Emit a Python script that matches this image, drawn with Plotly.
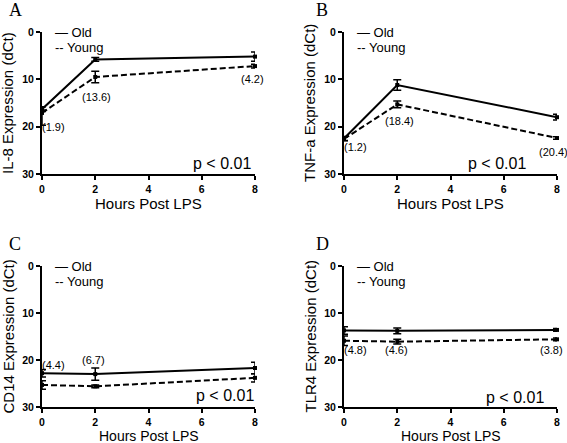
import plotly.graph_objects as go

W, H = 567, 443

hours = [0, 2, 8]

il8_old = [16.3, 5.8, 5.2]
il8_old_err = [0.5, 0.4, 1.0]
il8_young = [17.1, 9.5, 7.2]
il8_young_err_plus = [2.6, 1.2, 0.4]
il8_young_err_minus = [0.6, 1.2, 0.4]
il8_labels = ["(1.9)", "(13.6)", "(4.2)"]

tnf_old = [22.5, 11.2, 18.0]
tnf_old_err = [0.4, 1.1, 0.6]
tnf_young = [22.6, 15.3, 22.4]
tnf_young_err = [0.4, 0.7, 0.25]
tnf_labels = ["(1.2)", "(18.4)", "(20.4)"]

cd14_old = [22.8, 23.0, 21.7]
cd14_old_err = [0.8, 1.3, 1.2]
cd14_young = [25.3, 25.6, 23.8]
cd14_young_err = [0.9, 0.3, 0.9]
cd14_labels = ["(4.4)", "(6.7)", "(4.6)"]

tlr4_old = [13.7, 13.8, 13.6]
tlr4_old_err = [0.8, 0.6, 0.3]
tlr4_young = [15.9, 16.1, 15.6]
tlr4_young_err = [1.0, 0.5, 0.3]
tlr4_labels = ["(4.8)", "(4.6)", "(3.8)"]

panel_letters = ["A", "B", "C", "D"]
y_titles = ["IL-8 Expression (dCt)", "TNF-a Expression (dCt)",
            "CD14 Expression (dCt)", "TLR4 Expression (dCt)"]
x_title = "Hours Post LPS"
p_text = "p < 0.01"
y_ticks = [0, 10, 20, 30]
x_ticks = [0, 2, 4, 6, 8]

FONT = "Liberation Sans"

# pixel geometry of panels (left, right, top, bottom)
panels = [
    (42, 255, 32, 174),
    (344, 557, 32, 174),
    (42, 255, 266, 407),
    (344, 557, 266, 407),
]
x_title_y = [203, 203, 435.5, 435.5]
x_title_size = [15, 15, 14, 14]
letter_y = [10, 10, 244, 244]

def px(x):
    return x / W

def py(y):
    return 1 - y / H

fig = go.Figure()

series = [
    (il8_old, il8_old_err, il8_old_err, il8_young, il8_young_err_plus, il8_young_err_minus),
    (tnf_old, tnf_old_err, tnf_old_err, tnf_young, tnf_young_err, tnf_young_err),
    (cd14_old, cd14_old_err, cd14_old_err, cd14_young, cd14_young_err, cd14_young_err),
    (tlr4_old, tlr4_old_err, tlr4_old_err, tlr4_young, tlr4_young_err, tlr4_young_err),
]
labels = [il8_labels, tnf_labels, cd14_labels, tlr4_labels]
# label positions in data units (x, y)
label_pos = [
    [(0.42, 20.0), (2.03, 13.8), (7.9, 9.9)],
    [(0.42, 24.3), (2.07, 18.8), (7.86, 25.3)],
    [(0.45, 21.0), (1.95, 20.1), (8.04, 19.1)],
    [(0.45, 17.9), (1.99, 17.9), (7.8, 17.9)],
]
p_pos = [(6.76, 27.7), (5.75, 27.7), (6.87, 27.5), (6.42, 27.9)]

for i, (l, r, t, b) in enumerate(panels):
    n = i + 1
    xa = "x" if n == 1 else f"x{n}"
    ya = "y" if n == 1 else f"y{n}"
    old, oep, oem, young, yep, yem = series[i]
    fig.add_trace(go.Scatter(
        x=hours, y=old, xaxis=xa, yaxis=ya, mode="lines+markers",
        line=dict(color="black", width=2),
        marker=dict(symbol="square", size=4, color="black"),
        error_y=dict(type="data", array=oep, arrayminus=oem, symmetric=False,
                     color="black", thickness=1.5, width=4),
        cliponaxis=False, showlegend=False, name="Old"))
    fig.add_trace(go.Scatter(
        x=hours, y=young, xaxis=xa, yaxis=ya, mode="lines+markers",
        line=dict(color="black", width=2, dash="6px,3px"),
        marker=dict(symbol="square", size=4, color="black"),
        error_y=dict(type="data", array=yep, arrayminus=yem, symmetric=False,
                     color="black", thickness=1.5, width=4),
        cliponaxis=False, showlegend=False, name="Young"))

    axis_common = dict(showgrid=False, zeroline=False, showline=True,
                       linecolor="black", linewidth=2, ticks="outside",
                       ticklen=4, tickwidth=2, tickcolor="black", automargin=False,
                       tickfont=dict(family=FONT, size=10.5, color="black", weight="bold"))
    fig.update_layout(**{
        ("xaxis" if n == 1 else f"xaxis{n}"): dict(
            domain=[px(l), px(r)], anchor=ya, range=[0, 8], tickvals=x_ticks,
            ticktext=[str(v) for v in x_ticks], ticklabelstandoff=0, **axis_common),
        ("yaxis" if n == 1 else f"yaxis{n}"): dict(
            domain=[py(b), py(t)], anchor=xa, range=[30, 0], tickvals=y_ticks,
            ticktext=[str(v) for v in y_ticks], **axis_common),
    })

    ann = []
    # panel letter
    ann.append(dict(text=panel_letters[i], xref="paper", yref="paper",
                    x=px(l - 27 if n % 2 else l - 22), y=py(letter_y[i]),
                    font=dict(family="Liberation Serif", size=18, color="black")))
    # y title
    ann.append(dict(text=y_titles[i], xref="paper", yref="paper",
                    x=px(l - 34), y=py((t + b) / 2), textangle=-90,
                    font=dict(family=FONT, size=15, color="black")))
    # x title
    ann.append(dict(text=x_title, xref="paper", yref="paper",
                    x=px((l + r) / 2), y=py(x_title_y[i]),
                    font=dict(family=FONT, size=x_title_size[i], color="black")))
    # legend
    ann.append(dict(text="— Old", xref="paper", yref="paper", xanchor="left",
                    x=px(l + 12), y=py(t + 0.5),
                    font=dict(family=FONT, size=13, color="black")))
    ann.append(dict(text="-- Young", xref="paper", yref="paper", xanchor="left",
                    x=px(l + 12), y=py(t + 15.5),
                    font=dict(family=FONT, size=13, color="black")))
    # p value
    ann.append(dict(text=p_text, xref=xa, yref=ya, x=p_pos[i][0], y=p_pos[i][1],
                    font=dict(family=FONT, size=16, color="black")))
    for lab, (lx, ly) in zip(labels[i], label_pos[i]):
        ann.append(dict(text=lab, xref=xa, yref=ya, x=lx, y=ly,
                        font=dict(family=FONT, size=11, color="black")))
    for a in ann:
        a.setdefault("xanchor", "center")
        a.setdefault("yanchor", "middle")
        a["showarrow"] = False
        a["borderpad"] = 0
        fig.add_annotation(**a)

fig.update_layout(width=W, height=H,
                  margin=dict(l=0, r=0, t=0, b=0, pad=0, autoexpand=False),
                  paper_bgcolor="white", plot_bgcolor="white",
                  font=dict(family=FONT, color="black"))

fig.write_html("out.html", config={"displayModeBar": False},
               post_script="document.body.style.margin='0';document.body.style.padding='0';")
